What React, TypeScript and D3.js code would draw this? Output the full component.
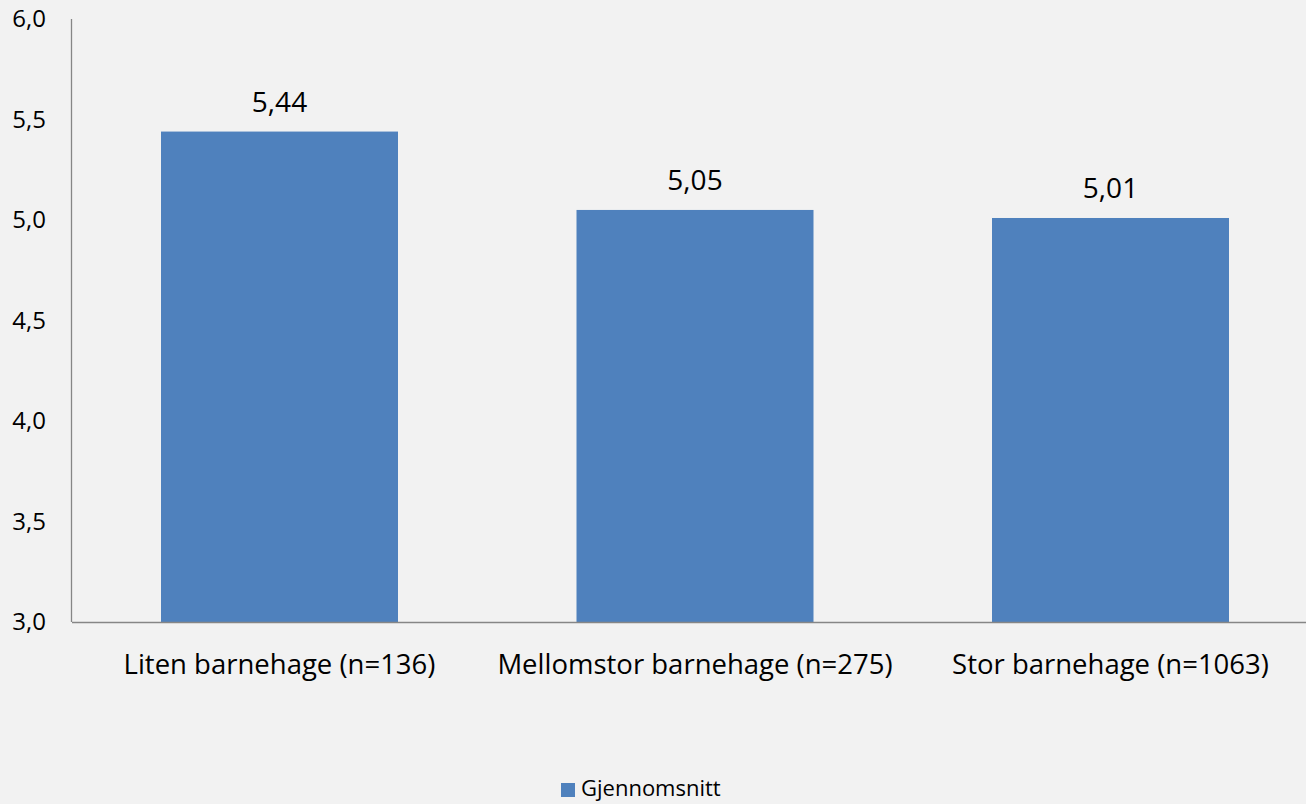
import React from "react";
import * as d3 from "d3";

const categories = ["Liten barnehage (n=136)", "Mellomstor barnehage (n=275)", "Stor barnehage (n=1063)"];
const values = [5.44, 5.05, 5.01];
const yTicks = [3.0, 3.5, 4.0, 4.5, 5.0, 5.5, 6.0];
const seriesName = "Gjennomsnitt";

const W = 1306;
const H = 804;
const left = 72;
const right = 1306;
const top = 19;
const bottom = 622;
const FONT = "'Open Sans', 'Noto Sans', sans-serif";
const fmt = (v: number, d: number) => v.toFixed(d).replace(".", ",");

export default function App() {
  const step = 415.5;
  const x = d3
    .scaleBand<string>()
    .domain(categories)
    .range([279.5 - step / 2, 279.5 - step / 2 + step * 3])
    .paddingInner(0.4296)
    .paddingOuter(0.2148);
  const y = d3.scaleLinear().domain([3, 6]).range([bottom, top]);
  return (
    <svg width={W} height={H} style={{ position: "absolute", left: 0, top: 0, display: "block" }}>
      <rect x={0} y={0} width={W} height={H} fill="#f2f2f2" />
      {categories.map((c, i) => (
        <g key={c}>
          <rect x={x(c)!} y={y(values[i])} width={x.bandwidth()} height={bottom - y(values[i])} fill="#4f81bd" />
          <text x={x(c)! + x.bandwidth() / 2} y={y(values[i]) - 20} textAnchor="middle" fontFamily={FONT} fontSize={28} fill="#000">
            {fmt(values[i], 2)}
          </text>
          <text x={x(c)! + x.bandwidth() / 2} y={674} textAnchor="middle" fontFamily={FONT} fontSize={27.5} fill="#000">
            {c}
          </text>
        </g>
      ))}
      <line x1={left - 0.5} x2={left - 0.5} y1={top} y2={bottom} stroke="#868686" strokeWidth={1.3} />
      <line x1={left} x2={right} y1={bottom + 0.5} y2={bottom + 0.5} stroke="#868686" strokeWidth={1.3} />
      {yTicks.map((t) => (
        <text key={t} x={46} y={y(t)} dy="0.35em" textAnchor="end" fontFamily={FONT} fontSize={24} fill="#000">
          {fmt(t, 1)}
        </text>
      ))}
      <rect x={561} y={783} width={14} height={14} fill="#4f81bd" />
      <text x={581} y={796} fontFamily={FONT} fontSize={22} fill="#000">{seriesName}</text>
    </svg>
  );
}
